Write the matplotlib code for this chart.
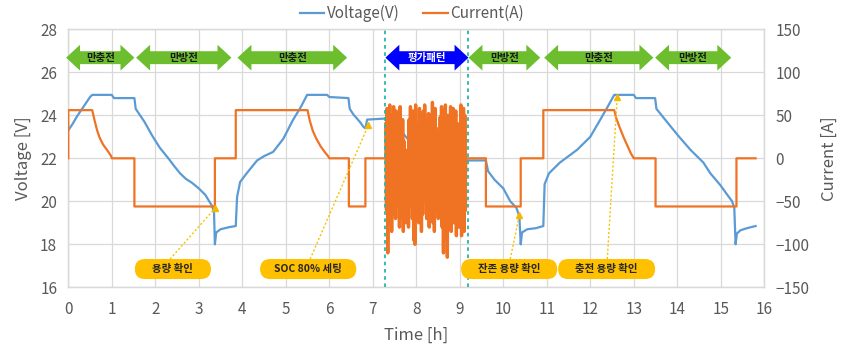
import numpy as np
import matplotlib
matplotlib.use("Agg")
import matplotlib.pyplot as plt
from matplotlib.patches import Polygon, FancyBboxPatch

plt.rcParams['font.family'] = ['Noto Sans CJK KR', 'DejaVu Sans']

# ---------------- data ----------------
# Voltage (left axis)
volt_t = [0, 0.1, 0.2, 0.3, 0.4, 0.5, 0.55, 1.0, 1.05, 1.52, 1.55, 1.6, 1.75, 1.93, 2.1, 2.3, 2.45,
          2.57, 2.7, 2.85, 3.0, 3.15, 3.3, 3.35, 3.37, 3.4, 3.5, 3.7, 3.85, 3.88, 3.95, 4.1, 4.34,
          4.5, 4.71, 4.94, 5.17, 5.35, 5.49, 5.95, 6.0, 6.44, 6.47, 6.55, 6.7, 6.79, 6.83, 6.87,
          7.3, 7.36, 7.56, 7.84, 8.32, 8.44, 9.01, 9.15, 9.6, 9.65, 9.8, 10.0, 10.16, 10.3,
          10.37, 10.4, 10.43, 10.55, 10.75, 10.92, 10.95, 11.05, 11.3, 11.7, 12.0, 12.23, 12.4,
          12.55, 13.0, 13.05, 13.49, 13.52, 13.68, 14.0, 14.3, 14.6, 14.76, 14.99, 15.15, 15.26,
          15.31, 15.34, 15.37, 15.45, 15.6, 15.8]
volt_v = [23.3, 23.6, 23.95, 24.25, 24.55, 24.85, 24.95, 24.95, 24.8, 24.8, 24.3, 24.15, 23.7,
          23.05, 22.5, 22.0, 21.6, 21.3, 21.05, 20.85, 20.6, 20.3, 19.8, 19.5, 18.0, 18.55, 18.7,
          18.8, 18.85, 20.2, 20.9, 21.3, 21.9, 22.1, 22.3, 22.9, 23.8, 24.4, 24.95, 24.95, 24.85,
          24.8, 24.3, 24.05, 23.7, 23.45, 23.4, 23.8, 23.85, 23.7, 23.5, 22.8, 22.9, 22.2, 21.6,
          21.9, 21.9, 21.4, 21.0, 20.6, 20.0, 19.7, 19.3, 18.0, 18.55, 18.7, 18.75, 18.85, 20.8,
          21.3, 21.8, 22.4, 23.0, 23.8, 24.4, 24.95, 24.95, 24.8, 24.8, 24.3, 23.9, 23.1, 22.4,
          21.8, 21.3, 20.75, 20.3, 20.0, 19.7, 18.0, 18.5, 18.65, 18.75, 18.85]

# Current (right axis), before and after the evaluation pattern
curr_t_a = [0, 0, 0.55, 0.6, 0.66, 0.72, 0.8, 0.9, 0.98, 1.0, 1.52, 1.52, 3.37, 3.37, 3.85, 3.85,
            5.5, 5.55, 5.62, 5.7, 5.8, 5.9, 5.98, 6.0, 6.45, 6.45, 6.83, 6.83, 7.3]
curr_i_a = [0, 56, 56, 45, 33, 24, 16, 9, 3, 0, 0, -56, -56, 0, 0, 56,
            56, 44, 32, 23, 14, 7, 2, 0, 0, -56, -56, 0, 0]
curr_t_b = [9.15, 9.6, 9.6, 10.4, 10.4, 10.92, 10.92, 12.55, 12.6, 12.69, 12.77, 12.85, 12.93,
            13.0, 13.5, 13.5, 15.36, 15.36, 15.8]
curr_i_b = [0, 0, -56, -56, 0, 0, 56, 56, 46, 34, 24, 15, 6,
            0, 0, -56, -56, 0, 0]

# Evaluation-pattern current (peaks / troughs)
pattern_peaks = [40, 58, 45, 62, 38, 50, 60, 42, 55, 35, 48, 60, 30, 45, 20, -10,
                 -25, 10,
                 45, 60, 38, 55, 48, 62, 40, 35, 58, 50, 30, 55, 62, 45, 38, 52, 25,
                 50, 65, 42, 58, 35, 15, 20, 48,
                 60, 40, 55, 62, 38, 50, 45, 60, 35, 58, 42, 55, 30, 40,
                 25, 62, 45, 58, 50]
pattern_troughs = [-60, -110, -75, -50, -85, -65, -40, -70, -55, -45, -80, -60, -70, -85, -50, -75,
                   -65, -80,
                   -55, -40, -70, -95, -100, -60, -45, -75, -55, -85, -65, -50, -40, -70, -60, -80, -55,
                   -45, -75, -85, -60, -50, -70, -40, -65,
                   -80, -110, -95, -60, -115, -70, -50, -85, -60, -75, -45, -90, -65, -80,
                   -55, -90, -70, -85, -60]
pattern_start, pattern_end = 7.3, 9.13

# Phase arrows
phase_labels = ['만충전', '만방전', '만충전', '평가패턴', '만방전', '만충전', '만방전']
phase_start = [-0.05, 1.56, 3.89, 7.29, 9.2, 10.94, 13.49]
phase_end = [1.52, 3.75, 6.41, 9.2, 10.85, 13.45, 15.24]
phase_color = ['#6DBE2E', '#6DBE2E', '#6DBE2E', '#0000FF', '#6DBE2E', '#6DBE2E', '#6DBE2E']

# Callouts
note_labels = ['용량 확인', 'SOC 80% 세팅', '잔존 용량 확인', '충전 용량 확인']
note_x0 = [1.53, 4.41, 9.03, 11.26]
note_x1 = [3.28, 6.62, 11.24, 13.49]
note_base_x = [2.34, 5.56, 10.16, 12.39]
note_tip_x = [3.37, 6.9, 10.37, 12.62]
note_tip_v = [19.67, 23.55, 19.37, 24.87]

divider_x = [7.28, 9.19]

# ---------------- figure ----------------
W, H = 841, 347
fig = plt.figure(figsize=(W / 100, H / 100), dpi=100)
ax = fig.add_axes([0.0812, 0.172, 0.9088 - 0.0812, 0.9156 - 0.172])
ax2 = ax.twinx()

BLUE = '#5B9BD5'
ORANGE = '#EF7323'
GRID = '#D9D9D9'
TXT = '#595959'

# current series
n = len(pattern_peaks)
pat_t = np.linspace(pattern_start, pattern_end, 2 * n)
pat_i = np.empty(2 * n)
pat_i[0::2] = pattern_peaks
pat_i[1::2] = pattern_troughs
curr_t = np.concatenate([curr_t_a, pat_t, curr_t_b])
curr_i = np.concatenate([curr_i_a, pat_i, curr_i_b])

lv, = ax.plot(volt_t, volt_v, color=BLUE, lw=1.6, label='Voltage(V)', zorder=3)
lc, = ax2.plot(curr_t, curr_i, color=ORANGE, lw=1.6, label='Current(A)', zorder=3)
# the dense pattern section rendered slightly heavier so it reads as a solid band
ax2.plot(pat_t, pat_i, color=ORANGE, lw=2.4, zorder=3)

ax.set_xlim(0, 16)
ax.set_ylim(16, 28)
ax2.set_ylim(-150, 150)
ax.set_xticks(range(0, 17))
ax.set_yticks(range(16, 29, 2))
ax2.set_yticks(range(-150, 151, 50))
ax.grid(True, color=GRID, lw=0.9)
ax.set_axisbelow(True)
for a in (ax, ax2):
    for s in a.spines.values():
        s.set_color(GRID)
        s.set_linewidth(0.9)
    a.tick_params(length=0, labelsize=11, colors=TXT, pad=8)
ax.tick_params(axis='x', pad=10)

ax.set_xlabel('Time [h]', fontsize=12, color=TXT, labelpad=6)
ax.set_ylabel('Voltage [V]', fontsize=12, color=TXT, labelpad=6)
ax2.set_ylabel('Current [A]', fontsize=12, color=TXT, labelpad=8)

# divider lines
for xd in divider_x:
    ax2.axvline(xd, color='#2AB5A5', lw=1.3, ls=(0, (2, 2)), zorder=4)

# phase arrows
yc, hs, hh, hl = 26.68, 0.3, 0.6, 0.32
for lab, x0, x1, col in zip(phase_labels, phase_start, phase_end, phase_color):
    pts = [(x0, yc), (x0 + hl, yc + hh), (x0 + hl, yc + hs), (x1 - hl, yc + hs), (x1 - hl, yc + hh),
           (x1, yc), (x1 - hl, yc - hh), (x1 - hl, yc - hs), (x0 + hl, yc - hs), (x0 + hl, yc - hh)]
    poly = Polygon(pts, closed=True, facecolor=col, edgecolor='none', transform=ax.transData,
                   clip_on=False, zorder=5)
    ax2.add_patch(poly)
    ax2.text((x0 + x1) / 2, yc, lab, transform=ax.transData, ha='center', va='center',
             fontsize=7.5, fontweight='bold', color='white' if col == '#0000FF' else '#1a1a1a',
             zorder=6)

# callouts
bc, bh = 16.85, 0.93
rx = 0.23
for lab, x0, x1, bx, tx, tv in zip(note_labels, note_x0, note_x1, note_base_x, note_tip_x, note_tip_v):
    ax2.plot([bx, tx], [bc + bh / 2, tv], transform=ax.transData, color='#F5C400', lw=1.0,
             ls=(0, (1.5, 1.5)), zorder=6)
    ax2.plot([tx], [tv], transform=ax.transData, marker='^', ms=5, color='#F5B800', zorder=7)
    box = FancyBboxPatch((x0, bc - bh / 2), x1 - x0, bh,
                         boxstyle=f'round,pad=0,rounding_size={rx}',
                         mutation_aspect=(bh / 2) / rx,
                         facecolor='#FFC000', edgecolor='none', transform=ax.transData, zorder=7)
    ax2.add_patch(box)
    ax2.text((x0 + x1) / 2, bc, lab, transform=ax.transData, ha='center', va='center',
             fontsize=7.5, fontweight='bold', color='#262626', zorder=8)

fig.legend(handles=[lv, lc], loc='upper center', bbox_to_anchor=(0.49, 1.025), ncol=2,
           frameon=False, fontsize=11, handlelength=1.6, handletextpad=0.2, columnspacing=1.5,
           labelcolor=TXT)

fig.savefig('out.png', dpi=100)
